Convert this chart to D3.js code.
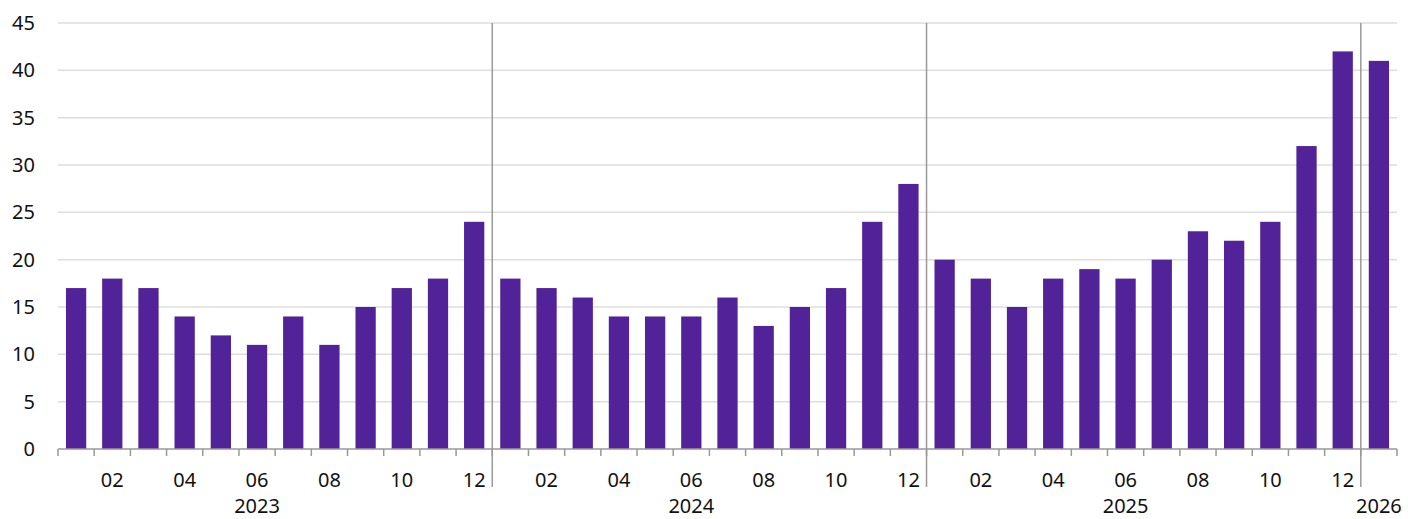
<!DOCTYPE html>
<html>
<head>
<meta charset="utf-8">
<script src="https://cdn.jsdelivr.net/npm/d3@7"></script>
<style>
  body { margin: 0; background: #fff; }
  text { font-family: "Noto Sans", sans-serif; fill: #111; }
</style>
</head>
<body>
<div id="chart"></div>
<script>
const years = ["2023", "2024", "2025", "2026"];
const v2023 = [17, 18, 17, 14, 12, 11, 14, 11, 15, 17, 18, 24];
const v2024 = [18, 17, 16, 14, 14, 14, 16, 13, 15, 17, 24, 28];
const v2025 = [20, 18, 15, 18, 19, 18, 20, 23, 22, 24, 32, 42];
const v2026 = [41];
const yTicks = [0, 5, 10, 15, 20, 25, 30, 35, 40, 45];

const data = [];
[v2023, v2024, v2025, v2026].forEach((vals, yi) => {
  vals.forEach((v, mi) => {
    data.push({ key: years[yi] + "-" + String(mi + 1).padStart(2, "0"),
      year: years[yi], month: mi + 1, value: v });
  });
});

const width = 1408, height = 519;
const margin = { top: 23, right: 11, bottom: 70, left: 58 };
const innerW = width - margin.left - margin.right;
const innerH = height - margin.top - margin.bottom;

const svg = d3.select("#chart").append("svg")
  .attr("width", width).attr("height", height);
const g = svg.append("g").attr("transform", `translate(${margin.left},${margin.top})`);

const x = d3.scaleBand().domain(data.map(d => d.key)).range([0, innerW])
  .paddingInner(0.44).paddingOuter(0.22);
const y = d3.scaleLinear().domain([0, 45]).range([innerH, 0]);
const step = x.step();
const off = step * 0.22;
const left = k => x(k) - off;
const mid = k => x(k) + x.bandwidth() / 2;

// gridlines
g.selectAll(".grid").data(yTicks.filter(t => t > 0)).join("line")
  .attr("x1", 0).attr("x2", innerW)
  .attr("y1", d => y(d)).attr("y2", d => y(d))
  .attr("stroke", "#dedede").attr("stroke-width", 1.5);

// y labels
g.selectAll(".ylab").data(yTicks).join("text")
  .attr("x", -23).attr("y", d => y(d)).attr("dy", "0.35em")
  .attr("text-anchor", "end").style("font-size", "20px")
  .text(d => d);

// bars
g.selectAll(".bar").data(data).join("rect")
  .attr("x", d => x(d.key)).attr("width", x.bandwidth())
  .attr("y", d => y(d.value)).attr("height", d => y(0) - y(d.value))
  .attr("fill", "#522398");

// x axis line + ticks
g.append("line").attr("x1", 0).attr("x2", innerW)
  .attr("y1", innerH).attr("y2", innerH)
  .attr("stroke", "#999").attr("stroke-width", 1.5);
const bounds = data.map(d => left(d.key)).concat([innerW]);
g.selectAll(".tick").data(bounds).join("line")
  .attr("x1", d => d).attr("x2", d => d)
  .attr("y1", innerH).attr("y2", innerH + 7)
  .attr("stroke", "#999").attr("stroke-width", 1.5);

// year separators
const firsts = data.filter((d, i) => i > 0 && d.month === 1);
g.selectAll(".sep").data(firsts).join("line")
  .attr("x1", d => left(d.key)).attr("x2", d => left(d.key))
  .attr("y1", 0).attr("y2", innerH + 38)
  .attr("stroke", "#999").attr("stroke-width", 1.5);

// month labels
g.selectAll(".mlab").data(data.filter(d => d.month % 2 === 0)).join("text")
  .attr("x", d => mid(d.key)).attr("y", innerH + 31)
  .attr("dy", "0.35em").attr("text-anchor", "middle")
  .style("font-size", "20px")
  .text(d => String(d.month).padStart(2, "0"));

// year labels
const yearLab = years.map(yr => {
  const items = data.filter(d => d.year === yr);
  return { year: yr, key: items[Math.floor((items.length - 1) / 2)].key };
});
g.selectAll(".ylabx").data(yearLab).join("text")
  .attr("x", d => mid(d.key)).attr("y", innerH + 57)
  .attr("dy", "0.35em").attr("text-anchor", "middle")
  .style("font-size", "20px")
  .text(d => d.year);
</script>
</body>
</html>
